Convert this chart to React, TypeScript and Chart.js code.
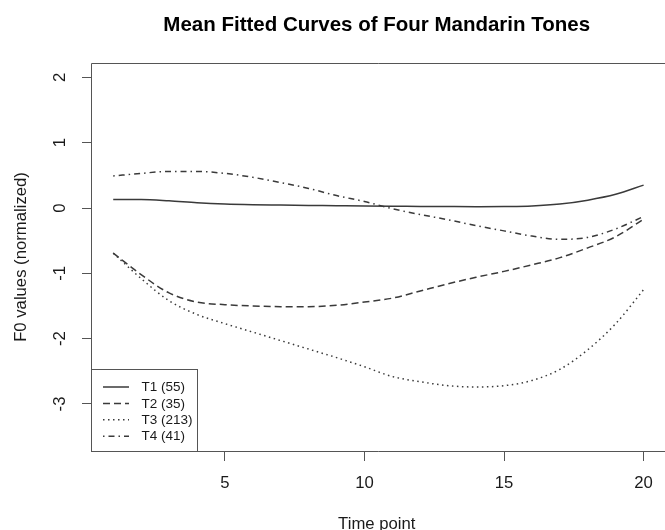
import React, { useEffect, useRef } from "react";
import { Chart, registerables } from "chart.js";

Chart.register(...registerables);

const timePoints = [1, 2, 3, 4, 5, 6, 7, 8, 9, 10, 11, 12, 13, 14, 15, 16, 17, 18, 19, 20];
const t1Values = [0.13, 0.13, 0.11, 0.08, 0.06, 0.05, 0.045, 0.04, 0.035, 0.03, 0.027, 0.025, 0.022, 0.02, 0.022, 0.03, 0.06, 0.12, 0.21, 0.35];
const t2Values = [-0.69, -1.02, -1.3, -1.44, -1.48, -1.5, -1.51, -1.51, -1.49, -1.44, -1.38, -1.27, -1.16, -1.06, -0.97, -0.87, -0.76, -0.61, -0.44, -0.17];
const t3Values = [-0.69, -1.08, -1.42, -1.63, -1.77, -1.9, -2.03, -2.16, -2.29, -2.43, -2.58, -2.66, -2.72, -2.74, -2.72, -2.64, -2.47, -2.17, -1.77, -1.25];
const t4Values = [0.49, 0.53, 0.56, 0.56, 0.53, 0.47, 0.39, 0.3, 0.19, 0.1, -0.01, -0.1, -0.18, -0.27, -0.35, -0.43, -0.48, -0.45, -0.32, -0.13];

const seriesLabels = ["T1 (55)", "T2 (35)", "T3 (213)", "T4 (41)"];
const seriesValues = [t1Values, t2Values, t3Values, t4Values];
const seriesDashes = [[], [7, 4], [1.5, 3.5], [1.5, 4, 6, 4]];

const xTickValues = [5, 10, 15, 20];
const yTickValues = [-3, -2, -1, 0, 1, 2];
const titleText = "Mean Fitted Curves of Four Mandarin Tones";
const xAxisTitle = "Time point";
const yAxisTitle = "F0 values (normalized)";

const FONT = "'Liberation Sans', Arial, Helvetica, sans-serif";
const LINE_COLOR = "#3a3a3a";
const AXIS_COLOR = "#555555";
const TEXT_COLOR = "#1a1a1a";

const framePlugin = {
  id: "rframe",
  afterDatasetsDraw(chart: any) {
    const { ctx, chartArea, width } = chart;
    const left = Math.round(chartArea.left) - 0.5;
    const top = Math.round(chartArea.top) + 0.5;
    const bottom = Math.round(chartArea.bottom) + 0.5;
    ctx.save();
    ctx.strokeStyle = AXIS_COLOR;
    ctx.lineWidth = 1;
    ctx.beginPath();
    ctx.moveTo(width + 5, top);
    ctx.lineTo(left, top);
    ctx.lineTo(left, bottom);
    ctx.lineTo(width + 5, bottom);
    ctx.stroke();
    ctx.restore();
  },
};

const legendPlugin = {
  id: "rlegend",
  afterDraw(chart: any) {
    const { ctx, chartArea } = chart;
    const boxLeft = Math.round(chartArea.left) - 0.5;
    const boxRight = boxLeft + 106;
    const boxBottom = Math.round(chartArea.bottom) + 0.5;
    const boxTop = boxBottom - 82;
    ctx.save();
    ctx.fillStyle = "#ffffff";
    ctx.fillRect(boxLeft, boxTop, boxRight - boxLeft, boxBottom - boxTop);
    ctx.strokeStyle = AXIS_COLOR;
    ctx.lineWidth = 1;
    ctx.strokeRect(boxLeft, boxTop, boxRight - boxLeft, boxBottom - boxTop);
    chart.data.datasets.forEach((ds: any, i: number) => {
      const y = boxTop + 17.5 + i * 16.4;
      ctx.beginPath();
      ctx.setLineDash(ds.borderDash || []);
      ctx.strokeStyle = ds.borderColor;
      ctx.lineWidth = ds.borderWidth;
      ctx.moveTo(boxLeft + 11.5, y);
      ctx.lineTo(boxLeft + 37.5, y);
      ctx.stroke();
      ctx.setLineDash([]);
      ctx.fillStyle = TEXT_COLOR;
      ctx.font = `13.5px ${FONT}`;
      ctx.textBaseline = "middle";
      ctx.textAlign = "left";
      ctx.fillText(ds.label, boxLeft + 50, y + 0.5);
    });
    ctx.restore();
  },
};

export default function App() {
  const canvasRef = useRef<HTMLCanvasElement | null>(null);

  useEffect(() => {
    const canvas = canvasRef.current;
    if (!canvas) return;
    const datasets = seriesLabels.map((label, i) => ({
      label,
      data: timePoints.map((t, j) => ({ x: t, y: seriesValues[i][j] })),
      borderColor: LINE_COLOR,
      backgroundColor: LINE_COLOR,
      borderWidth: 1.5,
      borderDash: seriesDashes[i],
      pointRadius: 0,
      fill: false,
      cubicInterpolationMode: "monotone" as const,
    }));

    const chart = new Chart(canvas, {
      type: "line",
      data: { datasets },
      plugins: [framePlugin, legendPlugin],
      options: {
        animation: false,
        responsive: false,
        devicePixelRatio: 1,
        layout: { padding: { left: 0, right: 0, top: 0, bottom: 0 } },
        plugins: {
          legend: { display: false },
          tooltip: { enabled: false },
          title: {
            display: true,
            text: titleText,
            fullSize: false,
            color: "#000000",
            font: { family: FONT, size: 20.5, weight: "bold", lineHeight: 1.2 },
            padding: { top: 13.4, bottom: 25 },
          },
        },
        scales: {
          x: {
            type: "linear",
            min: 0.24,
            max: 20.64,
            afterBuildTicks: (scale: any) => {
              scale.ticks = xTickValues.map((v) => ({ value: v }));
            },
            afterFit: (scale: any) => {
              scale.height = 79;
            },
            grid: {
              drawOnChartArea: false,
              drawTicks: true,
              tickLength: 10,
              color: AXIS_COLOR,
              tickColor: AXIS_COLOR,
            },
            border: { display: false },
            ticks: {
              color: TEXT_COLOR,
              font: { family: FONT, size: 16.7, lineHeight: 1.2 },
              padding: 12,
              maxRotation: 0,
              minRotation: 0,
              autoSkip: false,
            },
            title: {
              display: true,
              text: xAxisTitle,
              color: TEXT_COLOR,
              font: { family: FONT, size: 16.7, lineHeight: 1.2 },
              padding: { top: 0, bottom: -4 },
            },
          },
          y: {
            type: "linear",
            min: -3.72,
            max: 2.22,
            afterBuildTicks: (scale: any) => {
              scale.ticks = yTickValues.map((v) => ({ value: v }));
            },
            afterFit: (scale: any) => {
              scale.width = 92;
            },
            grid: {
              drawOnChartArea: false,
              drawTicks: true,
              tickLength: 10,
              color: AXIS_COLOR,
              tickColor: AXIS_COLOR,
            },
            border: { display: false },
            ticks: {
              color: TEXT_COLOR,
              font: { family: FONT, size: 16.7, lineHeight: 1.2 },
              padding: 14,
              minRotation: 90,
              maxRotation: 90,
              crossAlign: "center",
              autoSkip: false,
            },
            title: {
              display: true,
              text: yAxisTitle,
              color: TEXT_COLOR,
              font: { family: FONT, size: 16.7, lineHeight: 1.2 },
              padding: { top: 11, bottom: 0 },
            },
          },
        },
      } as any,
    });

    return () => {
      chart.destroy();
    };
  }, []);

  return (
    <div style={{ position: "fixed", left: 0, top: 0, width: 665, height: 530, overflow: "hidden", background: "#ffffff" }}>
      <canvas ref={canvasRef} width={665} height={530} style={{ display: "block", width: 665, height: 530 }} />
    </div>
  );
}
